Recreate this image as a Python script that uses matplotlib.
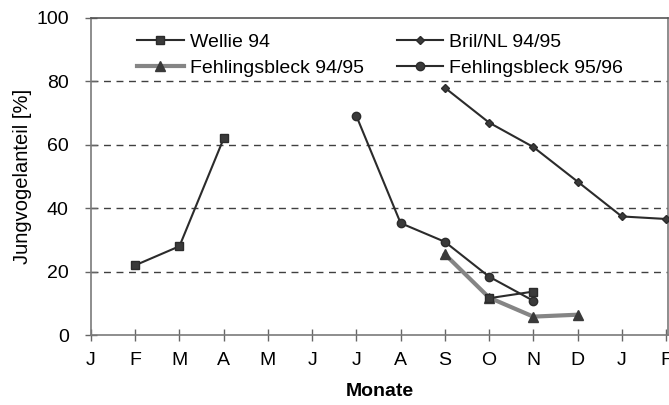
import numpy as np
import matplotlib
matplotlib.use("Agg")
import matplotlib.pyplot as plt

months = ["J", "F", "M", "A", "M", "J", "J", "A", "S", "O", "N", "D", "J", "F"]
nan = np.nan
wellie_94 = [nan, 22, 28, 62, nan, nan, nan, nan, nan, 11.6, 13.7, nan, nan, nan]
bril_nl_94_95 = [nan, nan, nan, nan, nan, nan, nan, nan, 78, 67, 59.3, 48.4, 37.4, 36.6]
fehl_94_95 = [nan, nan, nan, nan, nan, nan, nan, nan, 25.5, 11.8, 5.8, 6.4, nan, nan]
fehl_95_96 = [nan, nan, nan, nan, nan, nan, 69.1, 35.3, 29.4, 18.4, 10.8, nan, nan, nan]
yticks = [0, 20, 40, 60, 80, 100]

plt.rcParams['font.family'] = ['Liberation Sans', 'DejaVu Sans']
fs = 14

fig = plt.figure(figsize=(6.69, 4.05), dpi=100)
ax = fig.add_axes([91/669, 1-335/405, (668-91)/669, (335-18)/405])

x = np.arange(len(months))
dark = '#2b2b2b'

ax.plot(x, fehl_94_95, color='#858585', lw=3.0, marker='^', ms=7.5,
        mfc='#3a3a3a', mec='#3a3a3a', label='Fehlingsbleck 94/95', zorder=3)
ax.plot(x, fehl_95_96, color=dark, lw=1.5, marker='o', ms=6,
        mfc='#3a3a3a', mec=dark, label='Fehlingsbleck 95/96', zorder=4)
ax.plot(x, bril_nl_94_95, color=dark, lw=1.5, marker='D', ms=4.5,
        mfc='#3a3a3a', mec=dark, label='Bril/NL 94/95', zorder=4)
ax.plot(x, wellie_94, color=dark, lw=1.5, marker='s', ms=6,
        mfc='#3a3a3a', mec=dark, label='Wellie 94', zorder=5)

ax.set_xlim(0, (668-91)/44.23)
ax.set_ylim(0, 100)
ax.set_xticks(x)
ax.set_xticklabels(months, fontsize=fs)
ax.set_yticks(yticks)
ax.set_yticklabels([str(v) for v in yticks], fontsize=fs)

for v in [20, 40, 60, 80]:
    ax.axhline(v, color='#404040', lw=1.0, ls=(0, (5, 4)), zorder=1)

for s in ['left', 'bottom', 'top', 'right']:
    ax.spines[s].set_color('#7a7a7a')
    ax.spines[s].set_linewidth(1.2)
ax.spines['top'].set_color('#555555')

ax.tick_params(axis='x', direction='inout', length=8, width=1, color='#666666', pad=8)
ax.tick_params(axis='y', direction='inout', length=8, width=1, color='#666666', pad=12)

ax.set_ylabel('Jungvogelanteil [%]', fontsize=14.5, labelpad=3)
ax.set_xlabel('Monate', fontsize=fs, fontweight='bold', labelpad=10)

h, l = ax.get_legend_handles_labels()
order = [3, 0, 2, 1]
leg = ax.legend([h[i] for i in order], [l[i] for i in order], ncol=2,
                frameon=False, fontsize=fs, loc='upper left',
                bbox_to_anchor=(137/669, 1-33/405), bbox_transform=fig.transFigure,
                borderpad=0, borderaxespad=0, handlelength=2.4,
                handletextpad=0.3, columnspacing=1.7, labelspacing=0.45)

fig.savefig('out.png', dpi=100)
